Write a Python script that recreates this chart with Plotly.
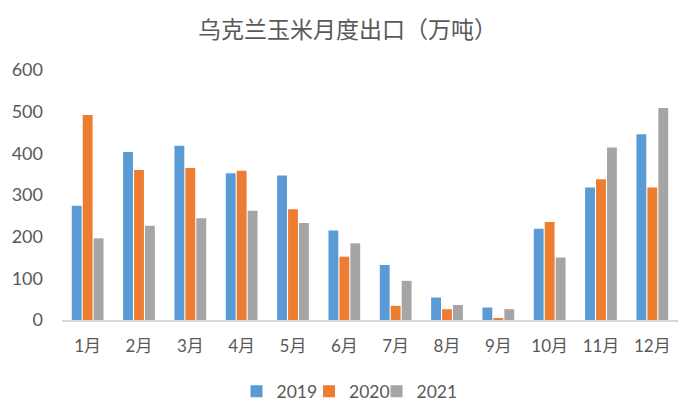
import plotly.graph_objects as go

months = ["1月", "2月", "3月", "4月", "5月", "6月", "7月", "8月", "9月", "10月", "11月", "12月"]
y2019 = [274, 403, 418, 352, 347, 215, 132, 54, 30, 219, 318, 446]
y2020 = [492, 360, 365, 358, 266, 152, 34, 26, 3, 235, 338, 318]
y2021 = [196, 226, 244, 262, 233, 184, 94, 36, 26, 150, 414, 509]
series_names = ["2019", "2020", "2021"]
colors = ["#5B9BD5", "#ED7D31", "#A5A5A5"]

FONT = "Lato, Noto Sans CJK SC, sans-serif"
legend_ids = ["legend", "legend2", "legend3"]
legend_x = [0.2833, 0.4010, 0.5106]

fig = go.Figure()
for name, vals, col, lg in zip(series_names, [y2019, y2020, y2021], colors, legend_ids):
    fig.add_trace(go.Bar(x=months, y=vals, name=name, marker_color=col, marker_line_width=0, legend=lg))

legend_common = dict(orientation="h", xanchor="left", y=-0.285, yanchor="middle",
                     font=dict(family=FONT, size=17.5, color="#595959"), itemwidth=30,
                     bgcolor="rgba(0,0,0,0)")
fig.update_layout(
    width=700, height=419,
    paper_bgcolor="white", plot_bgcolor="white",
    margin=dict(l=54, r=30, t=62, b=107),
    barmode="group", bargap=0.36, bargroupgap=0.1,
    title=dict(text="乌克兰玉米月度出口（万吨）", x=0.485, xanchor="center", y=0.947, yanchor="middle",
               font=dict(family="Noto Sans CJK SC", size=23, color="#595959")),
    font=dict(family=FONT, size=17, color="#595959"),
    legend=dict(x=legend_x[0], **legend_common),
    legend2=dict(x=legend_x[1], **legend_common),
    legend3=dict(x=legend_x[2], **legend_common),
    showlegend=True,
)
fig.update_xaxes(showline=True, linecolor="#D9D9D9", linewidth=1.5, ticks="", showgrid=False,
                 tickfont=dict(family=FONT, size=17, color="#595959"), ticklabelstandoff=10,
                 automargin=False)
fig.update_yaxes(range=[0, 600], dtick=100, showgrid=False, zeroline=False, showline=False, ticks="",
                 tickfont=dict(family=FONT, size=18, color="#595959"), ticklabelstandoff=18,
                 automargin=False)

fig.write_html("out.html")
